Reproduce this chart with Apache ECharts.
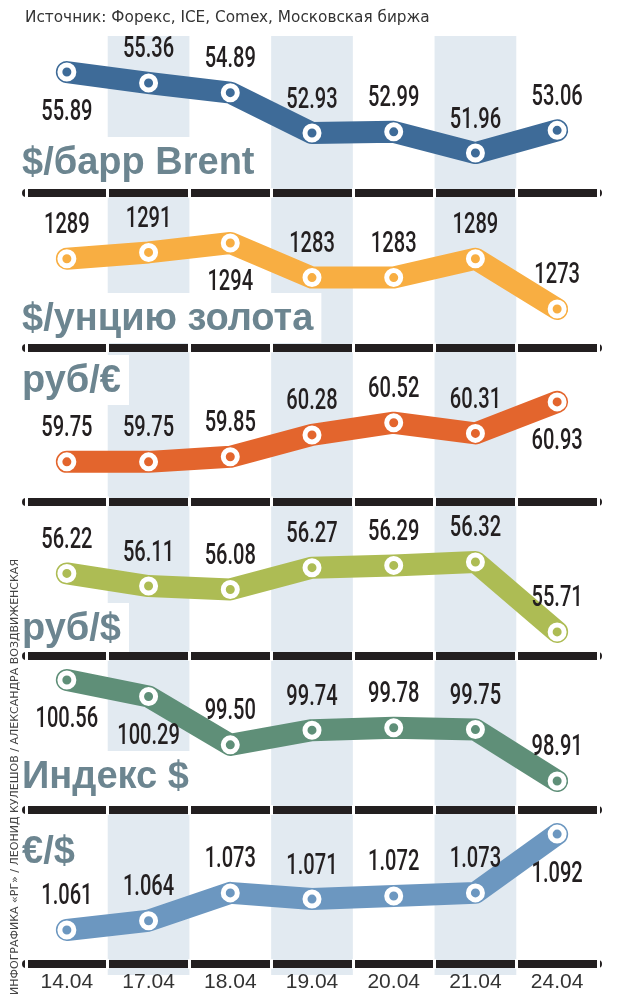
<!DOCTYPE html>
<html>
<head>
<meta charset="utf-8">
<title>Курсы и котировки</title>
<script src="https://cdn.jsdelivr.net/npm/echarts@6/dist/echarts.min.js"></script>
<style>
  html, body { margin: 0; padding: 0; background: #fff; }
  #main { width: 627px; height: 998px; }
</style>
</head>
<body>
<div id="main"></div>
<script>
// данные
var dates = ['14.04', '17.04', '18.04', '19.04', '20.04', '21.04', '24.04'];
var brent = [55.89, 55.36, 54.89, 52.93, 52.99, 51.96, 53.06];
var gold = [1289, 1291, 1294, 1283, 1283, 1289, 1273];
var rubEur = [59.75, 59.75, 59.85, 60.28, 60.52, 60.31, 60.93];
var rubUsd = [56.22, 56.11, 56.08, 56.27, 56.29, 56.32, 55.71];
var usdIndex = [100.56, 100.29, 99.50, 99.74, 99.78, 99.75, 98.91];
var eurUsd = [1.061, 1.064, 1.073, 1.071, 1.072, 1.073, 1.092];
var titles = ['$/барр Brent', '$/унцию золота', 'руб/€', 'руб/$', 'Индекс $', '€/$'];
var source = 'Источник: Форекс, ICE, Comex, Московская биржа';
var credit = 'ИНФОГРАФИКА «РГ» / ЛЕОНИД КУЛЕШОВ / АЛЕКСАНДРА ВОЗДВИЖЕНСКАЯ';

// оформление панелей
var panels = [
  { data: brent,    digits: 2, color: '#3e6b98', min: 50.02,  max: 57.64,  below: [0] },
  { data: gold,     digits: 0, color: '#f8ae42', min: 1260.75, max: 1309.9, below: [2] },
  { data: rubEur,   digits: 2, color: '#e3652d', min: 58.97,  max: 62.0,   below: [6] },
  { data: rubUsd,   digits: 2, color: '#adbc54', min: 55.50,  max: 56.847, below: [] },
  { data: usdIndex, digits: 2, color: '#5f8f78', min: 98.436, max: 100.952, below: [0, 1] },
  { data: eurUsd,   digits: 3, color: '#6c97c0', min: 1.050,  max: 1.0998, below: [6] }
];
var barY = [193, 347.5, 501.5, 656, 810, 964];
var titleCY = [164, 320, 382, 630, 778, 853];
var titleBottom = [189, 343, 405, 652, 806, 878];

var W = 627, H = 998, L = 26, R = 29;
var shade = '#e2eaf1';
var titleColor = '#6c8590';
var numFont = 'Roboto, "Liberation Sans", sans-serif';

var myChart = echarts.init(document.getElementById('main'), null, { renderer: 'canvas' });

var grid = [{ left: L, right: R, top: 36, bottom: 23 }];
var xAxis = [{
  type: 'category', gridIndex: 0, data: dates, boundaryGap: true,
  axisLine: { show: false }, axisTick: { show: false }, axisLabel: { show: false },
  splitArea: { show: true, interval: 0, areaStyle: { color: ['rgba(0,0,0,0)', shade] } }
}];
var yAxis = [{ type: 'value', gridIndex: 0, min: 0, max: 1, show: false }];
var series = [];
var title = [{
  text: source, left: 20, top: 6,
  textStyle: { fontFamily: 'DejaVu Sans', fontSize: 15.3, fontWeight: 'normal', color: '#333' }
}];

panels.forEach(function (p, i) {
  var g = i + 1;
  var top = i === 0 ? 36 : barY[i - 1];
  grid.push({ left: L, right: R, top: top, height: barY[i] - top });
  var last = i === panels.length - 1;
  // черная полоса с разрывами
  xAxis.push({
    type: 'category', gridIndex: g, data: dates, boundaryGap: true, position: 'bottom',
    axisLine: { show: true, lineStyle: { color: '#231f20', width: 8 } },
    axisTick: { show: true, inside: true, interval: 0, length: 5, lineStyle: { color: '#fff', width: 3 } },
    axisLabel: {
      show: last, interval: 0, margin: 8,
      fontFamily: '"Liberation Sans", sans-serif', fontSize: 21, color: '#333'
    },
    splitLine: { show: false }
  });
  xAxis.push({
    type: 'category', gridIndex: g, data: dates, boundaryGap: true, position: 'bottom',
    axisLine: { show: false },
    axisTick: { show: true, inside: false, interval: 0, length: 5, lineStyle: { color: '#fff', width: 3 } },
    axisLabel: { show: false }, splitLine: { show: false }
  });
  yAxis.push({ type: 'value', gridIndex: g, min: p.min, max: p.max, show: false });

  series.push({
    type: 'line',
    xAxisIndex: 2 * i + 1,
    yAxisIndex: g,
    data: p.data,
    lineStyle: { color: p.color, width: 22, cap: 'round', join: 'round' },
    symbol: 'circle',
    symbolSize: 14,
    showSymbol: true,
    itemStyle: { color: p.color, borderColor: '#fff', borderWidth: 5 },
    emphasis: { disabled: true },
    clip: false
  });

  // подписи значений — узкий шрифт
  series.push({
    type: 'custom',
    xAxisIndex: 2 * i + 1,
    yAxisIndex: g,
    z: 5,
    silent: true,
    clip: false,
    data: p.data.map(function (v, k) { return [k, v]; }),
    renderItem: function (params, api) {
      var pt = api.coord([api.value(0), api.value(1)]);
      var down = p.below.indexOf(params.dataIndex) >= 0;
      return {
        type: 'text',
        x: pt[0],
        y: pt[1] + (down ? 40 : -33),
        scaleX: 0.67,
        style: {
          text: api.value(1).toFixed(p.digits),
          font: '500 30px ' + numFont,
          fill: '#231f20',
          align: 'center',
          verticalAlign: 'middle'
        }
      };
    }
  });

  var padTop = 8, fs = 38;
  var tTop = titleCY[i] - fs / 2 - padTop;
  title.push({
    text: titles[i], left: 22, top: tTop,
    backgroundColor: '#fff',
    padding: [padTop, 8, titleBottom[i] - (tTop + padTop + fs), 0],
    textStyle: { fontFamily: 'Liberation Sans', fontSize: fs, fontWeight: 'bold', color: titleColor, lineHeight: fs }
  });
});

var option = {
  animation: false,
  backgroundColor: '#fff',
  title: title,
  grid: grid,
  xAxis: xAxis,
  yAxis: yAxis,
  series: series,
  graphic: [{
    type: 'text',
    x: 15, y: 995,
    rotation: Math.PI / 2,
    style: {
      text: credit, fill: '#444',
      font: '11px "DejaVu Sans"',
      textAlign: 'left', textVerticalAlign: 'middle'
    }
  }]
};

myChart.setOption(option);
</script>
</body>
</html>
